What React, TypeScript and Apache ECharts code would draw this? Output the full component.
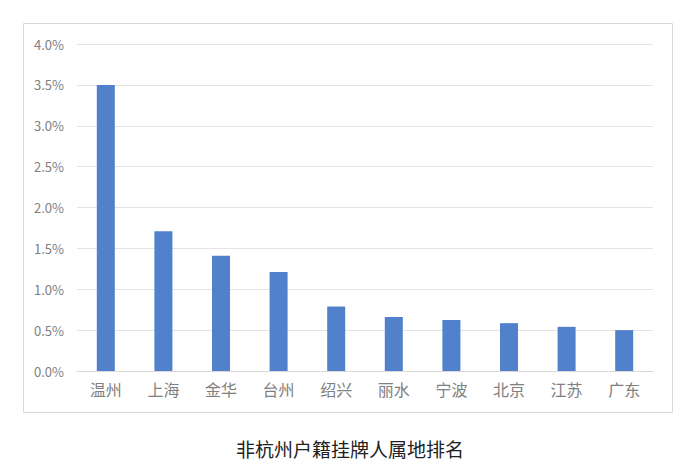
import React, { useEffect, useRef } from 'react';
import * as echarts from 'echarts';

const cities = ['温州', '上海', '金华', '台州', '绍兴', '丽水', '宁波', '北京', '江苏', '广东'];
const shares = [3.5, 1.71, 1.41, 1.21, 0.79, 0.66, 0.625, 0.585, 0.54, 0.5];
const chartTitle = '非杭州户籍挂牌人属地排名';

const App: React.FC = () => {
  const chartRef = useRef<HTMLDivElement>(null);

  useEffect(() => {
    const myChart = echarts.init(chartRef.current, null, { renderer: 'svg' });

    const option = {
      animation: false,
      backgroundColor: '#ffffff',
      textStyle: { fontFamily: '"Noto Sans CJK SC", "Noto Sans", sans-serif' },
      graphic: [
        {
          type: 'rect',
          shape: { x: 23.5, y: 23.5, width: 649, height: 389 },
          style: { fill: 'none', stroke: '#d9d9d9', lineWidth: 1 },
          silent: true
        },
        {
          type: 'text',
          left: 'center',
          top: 439,
          style: {
            text: chartTitle,
            fill: '#222222',
            fontSize: 19,
            fontFamily: '"Noto Sans CJK SC", sans-serif'
          }
        }
      ],
      grid: { left: 77, right: 47, top: 44, bottom: 98 },
      xAxis: {
        type: 'category',
        data: cities,
        axisLine: { lineStyle: { color: '#d9d9d9' } },
        axisTick: { show: false },
        axisLabel: {
          color: '#808080',
          fontSize: 16,
          margin: 10
        }
      },
      yAxis: {
        type: 'value',
        min: 0,
        max: 4,
        interval: 0.5,
        axisLine: { show: false },
        axisTick: { show: false },
        splitLine: { lineStyle: { color: '#e3e3e3' } },
        axisLabel: {
          color: '#808080',
          fontSize: 13,
          margin: 13,
          formatter: (v: number) => v.toFixed(1) + '%'
        }
      },
      series: [
        {
          type: 'bar',
          data: shares,
          barWidth: 18,
          itemStyle: { color: '#5181cb' }
        }
      ]
    };

    myChart.setOption(option);

    return () => {
      myChart.dispose();
    };
  }, []);

  return (
    <div
      ref={chartRef}
      style={{ position: 'fixed', left: 0, top: 0, width: '700px', height: '469px' }}
    ></div>
  );
};

export default App;
